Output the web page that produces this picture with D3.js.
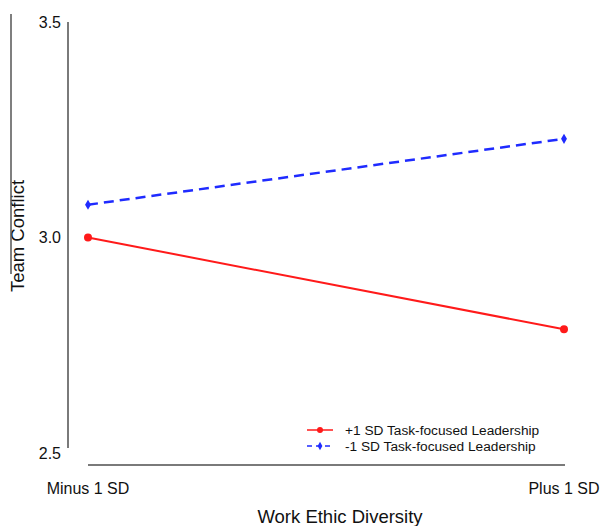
<!DOCTYPE html>
<html><head><meta charset="utf-8">
<script src="https://cdn.jsdelivr.net/npm/d3@7"></script>
<style>body{margin:0;background:#fff}svg{display:block}text{font-family:"Liberation Sans",Arial,sans-serif;fill:#111}</style>
</head><body><svg id="c" width="605" height="526"></svg>
<script>
const categories = ["Minus 1 SD", "Plus 1 SD"];
const highTask = [3.0, 2.787];
const lowTask = [3.076, 3.229];
const yTicks = [2.5, 3.0, 3.5];
const seriesNames = ["+1 SD Task-focused Leadership", "-1 SD Task-focused Leadership"];

const svg = d3.select("#c");
const x = d3.scalePoint().domain(categories).range([88, 564]);
const y = d3.scaleLinear().domain([2.5, 3.5]).range([453, 22]);
const axisCol = "#7a7a7a";

// y axis line
svg.append("line").attr("x1", 68).attr("x2", 68).attr("y1", y(3.5)).attr("y2", y(2.5) - 5)
  .attr("stroke", axisCol).attr("stroke-width", 2);
// y tick labels
svg.selectAll(".yt").data(yTicks).enter().append("text")
  .attr("x", 61).attr("y", d => y(d)).attr("dy", "0.35em").attr("text-anchor", "end")
  .style("font-size", "16px").text(d => d.toFixed(1));
// x axis line
svg.append("line").attr("x1", x(categories[0])).attr("x2", x(categories[1]) + 1).attr("y1", 465).attr("y2", 465)
  .attr("stroke", axisCol).attr("stroke-width", 2);
svg.selectAll(".xt").data(categories).enter().append("text")
  .attr("x", d => x(d)).attr("y", 488).attr("dy", "0.35em").attr("text-anchor", "middle")
  .style("font-size", "16px").text(d => d);
// axis titles
svg.append("text").attr("x", 340).attr("y", 517).attr("dy", "0.35em").attr("text-anchor", "middle")
  .style("font-size", "18.5px").text("Work Ethic Diversity");
svg.append("text").attr("transform", "translate(18,236) rotate(-90)").attr("dy", "0.35em").attr("text-anchor", "middle")
  .style("font-size", "18.5px").text("Team Conflict");
// stray left rule
svg.append("line").attr("x1", 11).attr("x2", 11).attr("y1", 14).attr("y2", 274)
  .attr("stroke", "#555").attr("stroke-width", 1.5);

const red = "#ff1a1a", blue = "#1f2bff";
const line = d3.line().x((d, i) => x(categories[i])).y(d => y(d));
svg.append("path").attr("d", line(highTask)).attr("fill", "none").attr("stroke", red).attr("stroke-width", 2);
svg.append("path").attr("d", line(lowTask)).attr("fill", "none").attr("stroke", blue).attr("stroke-width", 2.5)
  .attr("stroke-dasharray", "10,6");
svg.selectAll(".rp").data(highTask).enter().append("circle")
  .attr("cx", (d, i) => x(categories[i])).attr("cy", d => y(d)).attr("r", 4).attr("fill", red);
const diamond = d3.symbol().type(d3.symbolDiamond).size(30);
svg.selectAll(".bp").data(lowTask).enter().append("path").attr("d", diamond)
  .attr("transform", (d, i) => `translate(${x(categories[i])},${y(d)})`).attr("fill", blue);

// legend
const lg = svg.append("g");
const rows = [{n: seriesNames[0], c: red, dash: null, sym: "c"}, {n: seriesNames[1], c: blue, dash: "5,4", sym: "d"}];
rows.forEach((r, i) => {
  const ly = 430 + i * 16;
  lg.append("line").attr("x1", 307).attr("x2", 333).attr("y1", ly).attr("y2", ly)
    .attr("stroke", r.c).attr("stroke-width", 1.5).attr("stroke-dasharray", r.dash);
  if (r.sym === "c") lg.append("circle").attr("cx", 320).attr("cy", ly).attr("r", 3).attr("fill", r.c);
  else lg.append("path").attr("d", d3.symbol().type(d3.symbolDiamond).size(20)).attr("transform", `translate(320,${ly})`).attr("fill", r.c);
  lg.append("text").attr("x", 345).attr("y", ly).attr("dy", "0.35em").style("font-size", "13.7px").text(r.n);
});
</script></body></html>
